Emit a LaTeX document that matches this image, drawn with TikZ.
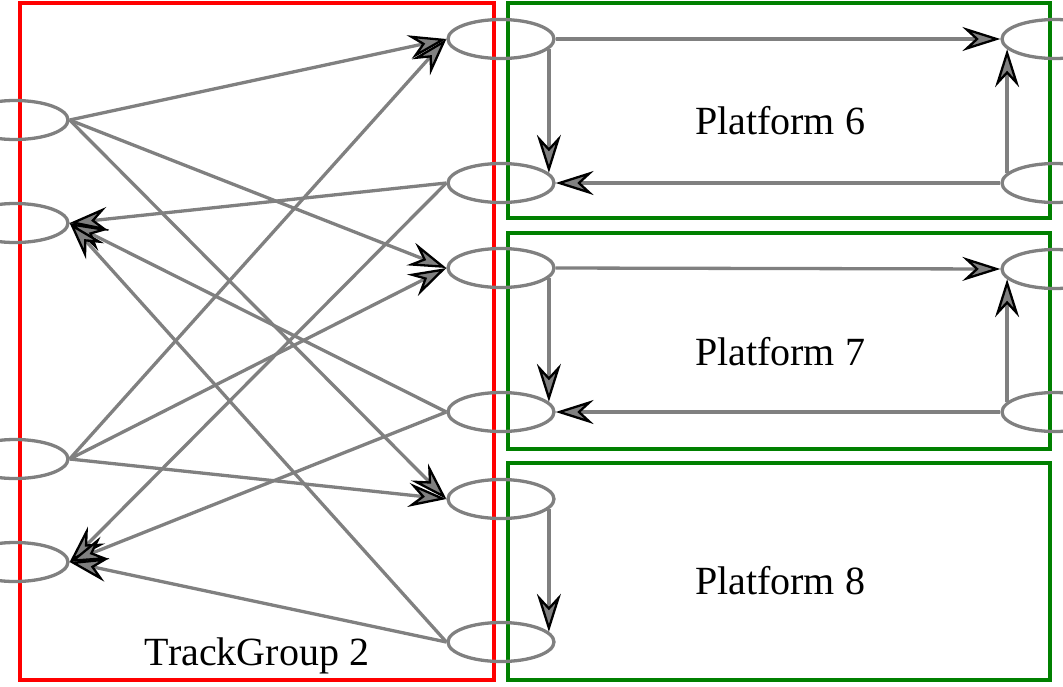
\documentclass[tikz,border=0pt]{standalone}
\usepackage{fontspec}
\setmainfont{Liberation Serif}
\usetikzlibrary{arrows.meta,shapes.geometric}
\definecolor{edgegray}{RGB}{128,128,128}
\definecolor{boxgreen}{RGB}{0,128,0}
\begin{document}
\begin{tikzpicture}[x=1pt,y=-1pt,
  st/.style={ellipse, draw=edgegray, line width=3.3pt, minimum width=106pt, minimum height=39pt, inner sep=0pt},
  edge/.style={draw=edgegray, line width=3.3pt, -{Stealth[length=38pt,width=24pt,inset=13pt,fill=edgegray,color=black,line width=2.3pt]}},
  lbl/.style={font=\fontsize{40}{48}\selectfont, anchor=base, inner sep=0pt},
  redbox/.style={draw=red, line width=3.3pt},
  greenbox/.style={draw=boxgreen, line width=3.3pt}]
\useasboundingbox (0,0) rectangle (1063,686);
\clip (0,0) rectangle (1063,686);
% clusters
\draw[redbox] (20,3) rectangle (494,680);
\draw[greenbox] (508,3) rectangle (1050,218);
\draw[greenbox] (508,233) rectangle (1050,449);
\draw[greenbox] (508,463) rectangle (1050,680);
\node[lbl] (tg) at (257,665) {TrackGroup 2};
\node[lbl] (p6) at (780,134) {Platform 6};
\node[lbl] (p7) at (780,365) {Platform 7};
\node[lbl] (p8) at (780,594) {Platform 8};
% states
\node[st] (L1) at (15,120) {};
\node[st] (L2) at (15,223) {};
\node[st] (L3) at (15,459) {};
\node[st] (L4) at (15,562) {};
\node[st] (M1) at (501,39) {};
\node[st] (M2) at (501,183) {};
\node[st] (M3) at (501,268) {};
\node[st] (M4) at (501,412) {};
\node[st] (M5) at (501,499) {};
\node[st] (M6) at (501,642) {};
\node[st] (R1) at (1055,39) {};
\node[st] (R2) at (1055,183) {};
\node[st] (R3) at (1055,269) {};
\node[st] (R4) at (1055,412) {};
% cross edges
\draw[edge] (L1.east) -- (M1.west);
\draw[edge] (L1.east) -- (M3.west);
\draw[edge] (L1.east) -- (M5.west);
\draw[edge] (L3.east) -- (M1.west);
\draw[edge] (L3.east) -- (M3.west);
\draw[edge] (L3.east) -- (M5.west);
\draw[edge] (M2.west) -- (L2.east);
\draw[edge] (M4.west) -- (L2.east);
\draw[edge] (M6.west) -- (L2.east);
\draw[edge] (M2.west) -- (L4.east);
\draw[edge] (M4.west) -- (L4.east);
\draw[edge] (M6.west) -- (L4.east);
% platform edges
\draw[edge] (M1.east) -- (R1.west);
\draw[edge] (R2.west) -- (M2.east);
\draw[edge] (M1.-12) -- (M2.12);
\draw[edge] (R2.168) -- (R1.192);
\draw[edge] (M3.east) -- (R3.west);
\draw[edge] (R4.west) -- (M4.east);
\draw[edge] (M3.-12) -- (M4.12);
\draw[edge] (R4.168) -- (R3.192);
\draw[edge] (M5.-12) -- (M6.12);
\end{tikzpicture}
\end{document}
